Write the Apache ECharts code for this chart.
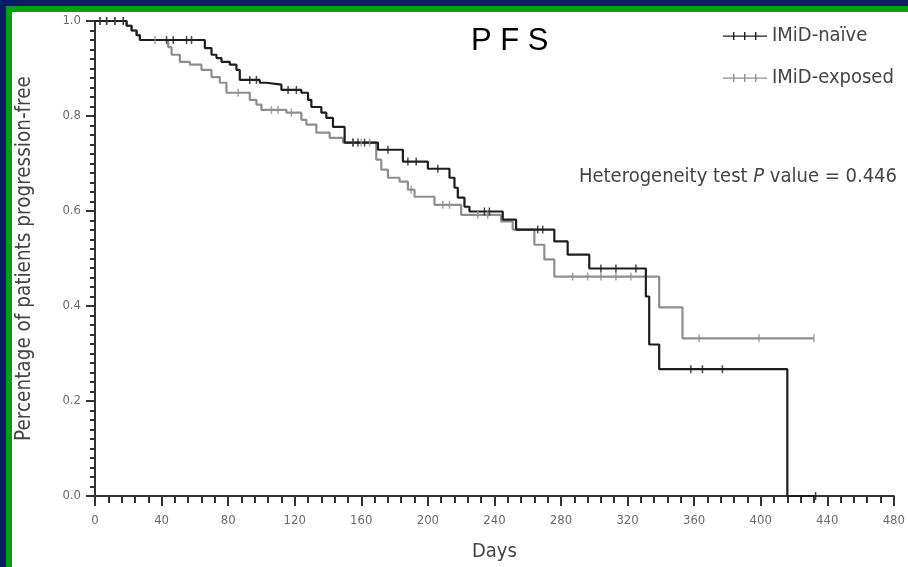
<!DOCTYPE html>
<html>
<head>
<meta charset="utf-8">
<script src="https://cdn.jsdelivr.net/npm/echarts@6/dist/echarts.min.js"></script>
<style>
  html, body { margin: 0; padding: 0; }
  body { width: 908px; height: 567px; position: relative; overflow: hidden; background: #032066; }
  #frame { position: absolute; left: 6px; top: 6px; right: 0; bottom: 0; background: #06a00c; }
  #paper { position: absolute; left: 12px; top: 12px; right: 0; bottom: 0; background: #ffffff; }
  #chart { position: absolute; left: 0; top: 0; width: 908px; height: 567px; }
</style>
</head>
<body>
<div id="frame"></div>
<div id="paper"></div>
<div id="chart"></div>
<script>
// Kaplan-Meier progression-free estimates: event days and survival after each step
const naiveDays = [0, 19, 22, 25, 27, 66, 70, 73, 76, 81, 85, 87, 99, 103, 112, 124, 128, 130, 136, 139, 143, 150, 170, 185, 200, 213, 216, 218, 222, 225, 245, 253, 276, 284, 297, 331, 333, 339, 416, 433];
const naiveSurv = [1.0, 0.99, 0.98, 0.97, 0.96, 0.943, 0.929, 0.922, 0.914, 0.908, 0.897, 0.876, 0.870, 0.866, 0.855, 0.849, 0.834, 0.819, 0.807, 0.796, 0.777, 0.744, 0.729, 0.704, 0.689, 0.670, 0.649, 0.628, 0.609, 0.599, 0.582, 0.561, 0.536, 0.508, 0.479, 0.420, 0.319, 0.267, 0.0, 0.0];

const exposedDays = [0, 19, 22, 25, 27, 44, 46, 51, 57, 64, 70, 75, 79, 93, 97, 100, 115, 124, 127, 133, 141, 149, 169, 172, 176, 183, 188, 192, 204, 220, 244, 251, 264, 270, 276, 339, 353, 432];
const exposedSurv = [1.0, 0.99, 0.98, 0.97, 0.96, 0.945, 0.929, 0.914, 0.908, 0.897, 0.882, 0.870, 0.849, 0.834, 0.824, 0.813, 0.807, 0.792, 0.782, 0.765, 0.754, 0.744, 0.708, 0.687, 0.670, 0.662, 0.645, 0.630, 0.613, 0.592, 0.578, 0.561, 0.529, 0.498, 0.462, 0.397, 0.332, 0.332];

// Censored observations (days)
const naiveCensor = [3, 7, 12, 17, 43, 47, 55, 58, 93, 97, 116, 121, 155, 158, 162, 176, 188, 193, 206, 234, 237, 266, 269, 304, 313, 325, 358, 365, 377, 433];
const exposedCensor = [3, 7, 12, 17, 36, 86, 106, 110, 118, 155, 160, 165, 190, 209, 213, 230, 236, 287, 296, 304, 313, 322, 363, 399, 432];

const seriesNames = ['IMiD-naïve', 'IMiD-exposed'];
const xTicks = [0, 40, 80, 120, 160, 200, 240, 280, 320, 360, 400, 440, 480];
const yTicks = [0.0, 0.2, 0.4, 0.6, 0.8, 1.0];

const NAIVE_COLOR = '#1e1e1e';
const EXPOSED_COLOR = '#8e8e8e';
const LABEL_FONT = "'Liberation Sans Narrow', 'DejaVu Sans Condensed', 'Roboto', sans-serif";

function pairs(days, surv) {
  return days.map((d, i) => [d, surv[i]]);
}
// level of a step curve at day t (censor marks sit on the curve)
function levelAt(days, surv, t) {
  let v = surv[0];
  for (let i = 0; i < days.length; i++) {
    if (days[i] <= t) v = surv[i]; else break;
  }
  return v;
}
function censorPoints(censor, days, surv) {
  return censor.map(t => [t, levelAt(days, surv, t)]);
}

const legendIcon = 'path://M0,3.4h44v1.4h-44z M10,0h1.4v8h-1.4z M21,0h1.4v8h-1.4z M32,0h1.4v8h-1.4z';

const chart = echarts.init(document.getElementById('chart'), null, { renderer: 'canvas' });
chart.setOption({
  backgroundColor: 'transparent',
  animation: false,
  title: {
    text: 'P F S',
    left: 466, top: 21,
    textStyle: { fontFamily: "'Liberation Sans', Arial, sans-serif", fontSize: 31, fontWeight: 'normal', color: '#000' }
  },
  legend: {
    data: seriesNames.map((n, i) => ({ name: n, icon: legendIcon, itemStyle: { color: i === 0 ? NAIVE_COLOR : EXPOSED_COLOR } })),
    orient: 'vertical',
    left: 718, top: 20,
    itemWidth: 44, itemHeight: 8,
    itemGap: 20,
    selectedMode: false,
    textStyle: { fontFamily: LABEL_FONT, fontSize: 20, color: '#444', lineHeight: 22, padding: [0, 0, 0, 0] }
  },
  grid: { left: 95, right: 9, top: 21, bottom: 70, containLabel: false },
  xAxis: {
    type: 'value',
    min: xTicks[0], max: xTicks[xTicks.length - 1], interval: 40,
    offset: 4,
    name: 'Days',
    nameLocation: 'middle',
    nameGap: 42,
    nameTextStyle: { fontFamily: LABEL_FONT, fontSize: 20, color: '#444' },
    axisLine: { lineStyle: { color: '#333', width: 2 } },
    axisTick: { length: 10, lineStyle: { color: '#333', width: 2 } },
    minorTick: { show: true, splitNumber: 5, length: 7, lineStyle: { color: '#333', width: 2 } },
    splitLine: { show: false },
    axisLabel: { fontFamily: LABEL_FONT, fontSize: 13, color: '#6a6a6a', margin: 14 }
  },
  yAxis: {
    type: 'value',
    min: yTicks[0], max: yTicks[yTicks.length - 1], interval: 0.2,
    name: 'Percentage of patients progression-free',
    nameLocation: 'middle',
    nameRotate: 90,
    nameGap: 60,
    nameTextStyle: { fontFamily: LABEL_FONT, fontSize: 20.5, color: '#444' },
    axisLine: { show: true, lineStyle: { color: '#333', width: 2 } },
    axisTick: { show: true, length: 9, lineStyle: { color: '#333', width: 2 } },
    minorTick: { show: true, splitNumber: 10, length: 5, lineStyle: { color: '#333', width: 2 } },
    splitLine: { show: false },
    axisLabel: { fontFamily: LABEL_FONT, fontSize: 13, color: '#6a6a6a', margin: 14, formatter: v => v.toFixed(1) }
  },
  graphic: [{
    type: 'text',
    x: 897, y: 177,
    style: {
      text: '{a|Heterogeneity test }{i|P}{a| value = 0.446}',
      align: 'right', verticalAlign: 'middle',
      rich: {
        a: { fontFamily: LABEL_FONT, fontSize: 20, fill: '#444' },
        i: { fontFamily: LABEL_FONT, fontSize: 20, fontStyle: 'italic', fill: '#444' }
      }
    }
  }],
  series: [
    {
      name: seriesNames[0], type: 'line', step: 'end', symbol: 'none', z: 3,
      data: pairs(naiveDays, naiveSurv),
      lineStyle: { color: NAIVE_COLOR, width: 2.2 }, itemStyle: { color: NAIVE_COLOR }
    },
    {
      name: seriesNames[1], type: 'line', step: 'end', symbol: 'none', z: 2,
      data: pairs(exposedDays, exposedSurv),
      lineStyle: { color: EXPOSED_COLOR, width: 2.2 }, itemStyle: { color: EXPOSED_COLOR }
    },
    {
      name: 'naive-censored', type: 'scatter', symbol: 'rect', symbolSize: [1.5, 8], z: 4,
      data: censorPoints(naiveCensor, naiveDays, naiveSurv),
      itemStyle: { color: NAIVE_COLOR }
    },
    {
      name: 'exposed-censored', type: 'scatter', symbol: 'rect', symbolSize: [1.5, 8], z: 3,
      data: censorPoints(exposedCensor, exposedDays, exposedSurv),
      itemStyle: { color: EXPOSED_COLOR }
    }
  ]
});
</script>
</body>
</html>
